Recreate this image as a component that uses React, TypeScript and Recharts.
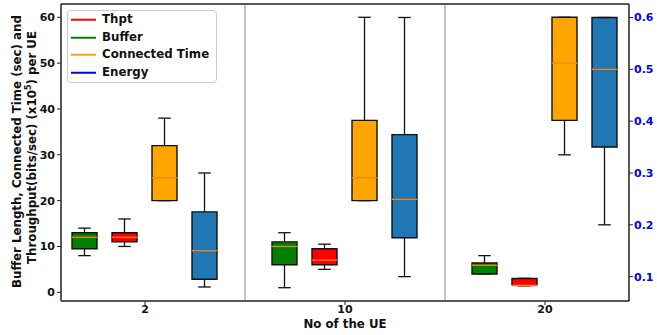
import React from "react";
import {
  ComposedChart, Bar, XAxis, YAxis, ReferenceLine, Legend,
} from "recharts";

const UE = ["2", "10", "20"];

// boxes: min, q1, median, q3, max per UE count
const BUFFER_MIN = [8, 1, 4];
const BUFFER_Q1 = [9.5, 6, 4];
const BUFFER_MED = [12, 10, 5.9];
const BUFFER_Q3 = [13, 11, 6.4];
const BUFFER_MAX = [14, 13, 8];

const THPT_MIN = [10, 5, 1.4];
const THPT_Q1 = [11, 6, 1.5];
const THPT_MED = [12, 7, 1.5];
const THPT_Q3 = [13, 9.5, 3];
const THPT_MAX = [16, 10.5, 3.05];

const CONN_MIN = [20, 20, 30];
const CONN_Q1 = [20, 20, 37.5];
const CONN_MED = [25, 25, 50];
const CONN_Q3 = [32, 37.5, 60];
const CONN_MAX = [38, 60, 60];

const ENERGY_MIN = [0.08, 0.1, 0.2];
const ENERGY_Q1 = [0.095, 0.175, 0.35];
const ENERGY_MED = [0.15, 0.249, 0.5];
const ENERGY_Q3 = [0.225, 0.374, 0.6];
const ENERGY_MAX = [0.3, 0.6, 0.6];

const LEFT_TICKS = [0, 10, 20, 30, 40, 50, 60];
const RIGHT_TICKS = [0.1, 0.2, 0.3, 0.4, 0.5, 0.6];

const LEGEND = [
  { name: "Thpt", color: "#ff0000" },
  { name: "Buffer", color: "#008000" },
  { name: "Connected Time", color: "#ffa500" },
  { name: "Energy", color: "#0000ff" },
];

const SERIES = [
  { key: "buf", axis: "left", fill: "#008000", min: BUFFER_MIN, q1: BUFFER_Q1, med: BUFFER_MED, q3: BUFFER_Q3, max: BUFFER_MAX },
  { key: "thpt", axis: "left", fill: "#ff0000", min: THPT_MIN, q1: THPT_Q1, med: THPT_MED, q3: THPT_Q3, max: THPT_MAX },
  { key: "conn", axis: "left", fill: "#ffa500", min: CONN_MIN, q1: CONN_Q1, med: CONN_MED, q3: CONN_Q3, max: CONN_MAX },
  { key: "energy", axis: "right", fill: "#1f77b4", min: ENERGY_MIN, q1: ENERGY_Q1, med: ENERGY_MED, q3: ENERGY_Q3, max: ENERGY_MAX },
];

const data = UE.map((ue, i) => {
  const row: Record<string, number | string> = { x: i, ue };
  SERIES.forEach((s) => {
    row[`${s.key}_base`] = s.min[i];
    row[`${s.key}_lw`] = s.q1[i] - s.min[i];
    row[`${s.key}_lb`] = s.med[i] - s.q1[i];
    row[`${s.key}_ub`] = s.q3[i] - s.med[i];
    row[`${s.key}_uw`] = s.max[i] - s.q3[i];
  });
  return row;
});

const FONT = "DejaVu Sans";
const EDGE = "#111";
const MEDIAN = "#ff7f0e";

const span = (p: any) => {
  const top = Math.min(p.y, p.y + p.height);
  const bot = Math.max(p.y, p.y + p.height);
  return { top, bot, x: p.x, w: p.width, cx: p.x + p.width / 2 };
};

const Empty = () => <g />;

const LowerWhisker = (p: any) => {
  const { top, bot, cx, w } = span(p);
  return (
    <g>
      <line x1={cx} x2={cx} y1={top} y2={bot} stroke={EDGE} strokeWidth={1.3} />
      <line x1={cx - w / 4} x2={cx + w / 4} y1={bot} y2={bot} stroke={EDGE} strokeWidth={1.3} />
    </g>
  );
};

const UpperWhisker = (p: any) => {
  const { top, bot, cx, w } = span(p);
  return (
    <g>
      <line x1={cx} x2={cx} y1={top} y2={bot} stroke={EDGE} strokeWidth={1.3} />
      <line x1={cx - w / 4} x2={cx + w / 4} y1={top} y2={top} stroke={EDGE} strokeWidth={1.3} />
    </g>
  );
};

const lowerBox = (fill: string) => (p: any) => {
  const { top, bot, x, w } = span(p);
  return (
    <g>
      <rect x={x} y={top} width={w} height={bot - top} fill={fill} />
      <path d={`M${x},${top}L${x},${bot}L${x + w},${bot}L${x + w},${top}`} fill="none" stroke={EDGE} strokeWidth={1.4} />
    </g>
  );
};

const upperBox = (fill: string) => (p: any) => {
  const { top, bot, x, w } = span(p);
  return (
    <g>
      <rect x={x} y={top} width={w} height={bot - top} fill={fill} />
      <path d={`M${x},${bot}L${x},${top}L${x + w},${top}L${x + w},${bot}`} fill="none" stroke={EDGE} strokeWidth={1.4} />
      <line x1={x} x2={x + w} y1={bot} y2={bot} stroke={MEDIAN} strokeWidth={1.3} />
    </g>
  );
};

const YLabel = (props: any) => {
  const vb = props.viewBox || { x: 0, y: 4, height: 297 };
  const mid = vb.y + vb.height / 2;
  const x1 = vb.x + 20.7;
  const x2 = vb.x + 35.7;
  const y1 = mid - 1;
  const y2 = mid - 5;
  return (
    <g fontFamily={FONT} fontWeight="bold" fontSize={11.8} fill="#111">
      <text x={x1} y={y1} textAnchor="middle" transform={`rotate(-90, ${x1}, ${y1})`}>
        Buffer Length, Connected Time (sec) and
      </text>
      <text x={x2} y={y2} textAnchor="middle" transform={`rotate(-90, ${x2}, ${y2})`}>
        Throughput(bits/sec) (x10<tspan fontSize={8} dy={-5}>5</tspan>
        <tspan dy={5}>) per UE</tspan>
      </text>
    </g>
  );
};

const XLabel = (props: any) => {
  const vb = props.viewBox || { x: 61, y: 301, width: 568 };
  return (
    <text x={vb.x + vb.width / 2} y={vb.y + 26.5} textAnchor="middle" fontFamily={FONT} fontWeight="bold" fontSize={11.8} fill="#111">
      No of the UE
    </text>
  );
};

const renderLegend = () => (
  <div
    style={{
      boxSizing: "border-box",
      width: 150,
      height: 73,
      border: "1px solid #cccccc",
      borderRadius: 4,
      background: "#fff",
      paddingTop: 0,
      fontFamily: FONT,
      fontWeight: "bold",
      fontSize: 11.8,
      color: "#111",
    }}
  >
    {LEGEND.map((l) => (
      <div key={l.name} style={{ display: "flex", alignItems: "center", height: 17.5 }}>
        <svg width={34} height={17.5} style={{ flex: "none" }}>
          <line x1={3} x2={28} y1={8.75} y2={8.75} stroke={l.color} strokeWidth={2} />
        </svg>
        <span style={{ lineHeight: "17.5px" }}>{l.name}</span>
      </div>
    ))}
  </div>
);

const axisLine = { stroke: "#222", strokeWidth: 1.5 };

export default function App() {
  return (
    <div style={{ position: "absolute", left: 0, top: 0, background: "#fff" }}>
      <ComposedChart
        width={657}
        height={335}
        data={data}
        margin={{ top: 4, right: 0, bottom: 0, left: 0 }}
        barSize={25}
        barGap={15}
        style={{ fontFamily: FONT }}
      >
        <XAxis
          dataKey="x"
          type="number"
          domain={[-0.42, 2.42]}
          allowDataOverflow
          ticks={[0, 1, 2]}
          tickFormatter={(v: number) => UE[v]}
          height={34}
          tickSize={4}
          tickMargin={0}
          tick={{ fill: "#111", fontSize: 11, fontWeight: "bold" }}
          tickLine={{ stroke: "#222" }}
          axisLine={axisLine}
          label={<XLabel />}
        />
        <YAxis
          yAxisId="left"
          domain={[-1.9, 62.9]}
          allowDataOverflow
          ticks={LEFT_TICKS}
          width={61}
          tickSize={4}
          tickMargin={2}
          tick={{ fill: "#111", fontSize: 11, fontWeight: "bold" }}
          tickLine={{ stroke: "#222" }}
          axisLine={axisLine}
          label={<YLabel />}
        />
        <YAxis
          yAxisId="right"
          orientation="right"
          domain={[0.053, 0.626]}
          allowDataOverflow
          ticks={RIGHT_TICKS}
          tickFormatter={(v: number) => v.toFixed(1)}
          width={28}
          tickSize={4}
          tickMargin={1}
          tick={{ fill: "#0000ff", fontSize: 11, fontWeight: "bold" }}
          tickLine={{ stroke: "#222" }}
          axisLine={axisLine}
        />
        <ReferenceLine yAxisId="left" x={0.5} stroke="#b0b0b0" strokeWidth={1.5} />
        <ReferenceLine yAxisId="left" x={1.5} stroke="#b0b0b0" strokeWidth={1.5} />
        <ReferenceLine yAxisId="left" y={62.9} stroke="#222" strokeWidth={1.5} />
        <Legend
          content={renderLegend}
          layout="vertical"
          align="center"
          verticalAlign="middle"
          wrapperStyle={{ top: 10, left: 67, width: 150, height: 73 }}
        />
        {SERIES.map((s) => [
          <Bar key={`${s.key}_base`} dataKey={`${s.key}_base`} stackId={s.key} yAxisId={s.axis} shape={Empty} isAnimationActive={false} legendType="none" />,
          <Bar key={`${s.key}_lw`} dataKey={`${s.key}_lw`} stackId={s.key} yAxisId={s.axis} shape={LowerWhisker} isAnimationActive={false} legendType="none" />,
          <Bar key={`${s.key}_lb`} dataKey={`${s.key}_lb`} stackId={s.key} yAxisId={s.axis} shape={lowerBox(s.fill)} isAnimationActive={false} legendType="none" />,
          <Bar key={`${s.key}_ub`} dataKey={`${s.key}_ub`} stackId={s.key} yAxisId={s.axis} shape={upperBox(s.fill)} isAnimationActive={false} legendType="none" />,
          <Bar key={`${s.key}_uw`} dataKey={`${s.key}_uw`} stackId={s.key} yAxisId={s.axis} shape={UpperWhisker} isAnimationActive={false} legendType="none" />,
        ])}
      </ComposedChart>
    </div>
  );
}
